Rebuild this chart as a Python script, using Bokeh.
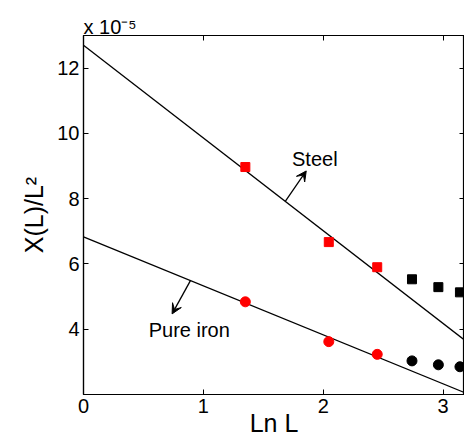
from bokeh.plotting import figure
from bokeh.models import Range1d, LinearAxis, Label, Arrow, VeeHead, FixedTicker
from bokeh.embed import file_html
from bokeh.resources import INLINE

# Data (x = ln L, y in units of 1e-5)
steel_x = [1.35, 2.046, 2.45]
steel_y = [8.97, 6.67, 5.90]
steel_extra_x = [2.74, 2.96, 3.14]
steel_extra_y = [5.53, 5.29, 5.13]
iron_x = [1.35, 2.046, 2.45]
iron_y = [4.84, 3.62, 3.23]
iron_extra_x = [2.74, 2.96, 3.14]
iron_extra_y = [3.03, 2.91, 2.85]
fit_x = [0.0, 3.178]
steel_fit_y = [12.70, 3.67]
iron_fit_y = [6.83, 2.06]
x_ticks = [0, 1, 2, 3]
y_ticks = [4, 6, 8, 10, 12]
scale_text = "x 10⁻⁵"

FONT = "Liberation Sans"

p = figure(frame_width=381, frame_height=359,
           x_range=Range1d(0, 3.178), y_range=Range1d(2, 13),
           output_backend="svg", toolbar_location=None,
           min_border_left=83, min_border_right=0, min_border_top=35, min_border_bottom=50)
p.grid.visible = False
p.outline_line_color = "black"
p.outline_line_width = 1.2
p.background_fill_color = "white"
p.border_fill_color = "white"

p.title.text = scale_text
p.title.align = "left"
p.title.text_font = FONT
p.title.text_font_size = "20px"
p.title.text_font_style = "normal"
p.title.text_color = "black"
p.title.standoff = -5
p.title.offset = 0

for ax in [p.xaxis[0], p.yaxis[0]]:
    ax.major_tick_in = 5
    ax.major_tick_out = 0
    ax.minor_tick_in = 0
    ax.minor_tick_out = 0
    ax.axis_line_color = "black"
    ax.axis_line_width = 1.2
    ax.major_tick_line_color = "black"
    ax.major_label_text_font = FONT
    ax.major_label_text_font_size = "20px"
    ax.major_label_text_color = "black"
    ax.axis_label_text_font = FONT
    ax.axis_label_text_font_size = "25px"
    ax.axis_label_text_font_style = "normal"
    ax.axis_label_text_color = "black"

p.xaxis[0].ticker = FixedTicker(ticks=x_ticks)
p.yaxis[0].ticker = FixedTicker(ticks=y_ticks)
p.xaxis[0].axis_label = "Ln L"
p.yaxis[0].axis_label = "X(L)/L²"
p.xaxis[0].major_label_standoff = 4
p.yaxis[0].major_label_standoff = 4
p.xaxis[0].axis_label_standoff = -7
p.yaxis[0].axis_label_standoff = 6

top = LinearAxis(ticker=FixedTicker(ticks=x_ticks), major_label_text_font_size="1px",
                 major_label_text_color=None, major_label_standoff=0,
                 major_tick_in=5, major_tick_out=0,
                 minor_tick_in=0, minor_tick_out=0, axis_line_color="black")
right = LinearAxis(ticker=FixedTicker(ticks=y_ticks), major_label_text_font_size="1px",
                   major_label_text_color=None, major_label_standoff=0,
                   major_tick_in=5, major_tick_out=0,
                   minor_tick_in=0, minor_tick_out=0, axis_line_color="black")
p.add_layout(top, "above")
p.add_layout(right, "right")

p.line(fit_x, steel_fit_y, line_color="black", line_width=1.3)
p.line(fit_x, iron_fit_y, line_color="black", line_width=1.3)

p.scatter(steel_x, steel_y, marker="square", size=9, fill_color="red", line_color="red")
p.scatter(steel_extra_x, steel_extra_y, marker="square", size=9, fill_color="black", line_color="black")
p.scatter(iron_x, iron_y, marker="circle", size=10, fill_color="red", line_color="red")
p.scatter(iron_extra_x, iron_extra_y, marker="circle", size=10, fill_color="black", line_color="black")

p.add_layout(Arrow(end=VeeHead(size=10, fill_color="black", line_color="black"),
                   x_start=1.683, y_start=7.92, x_end=1.858, y_end=8.85,
                   line_color="black", line_width=1.3))
p.add_layout(Arrow(end=VeeHead(size=10, fill_color="black", line_color="black"),
                   x_start=0.892, y_start=5.49, x_end=0.739, y_end=4.47,
                   line_color="black", line_width=1.3))

p.add_layout(Label(x=1.739, y=9.214, text="Steel", text_font=FONT, text_font_size="20px",
                   text_baseline="middle", text_align="left", text_color="black"))
p.add_layout(Label(x=0.544, y=3.978, text="Pure iron", text_font=FONT, text_font_size="20px",
                   text_baseline="middle", text_align="left", text_color="black"))

open("out.html", "w").write(file_html(p, INLINE))
